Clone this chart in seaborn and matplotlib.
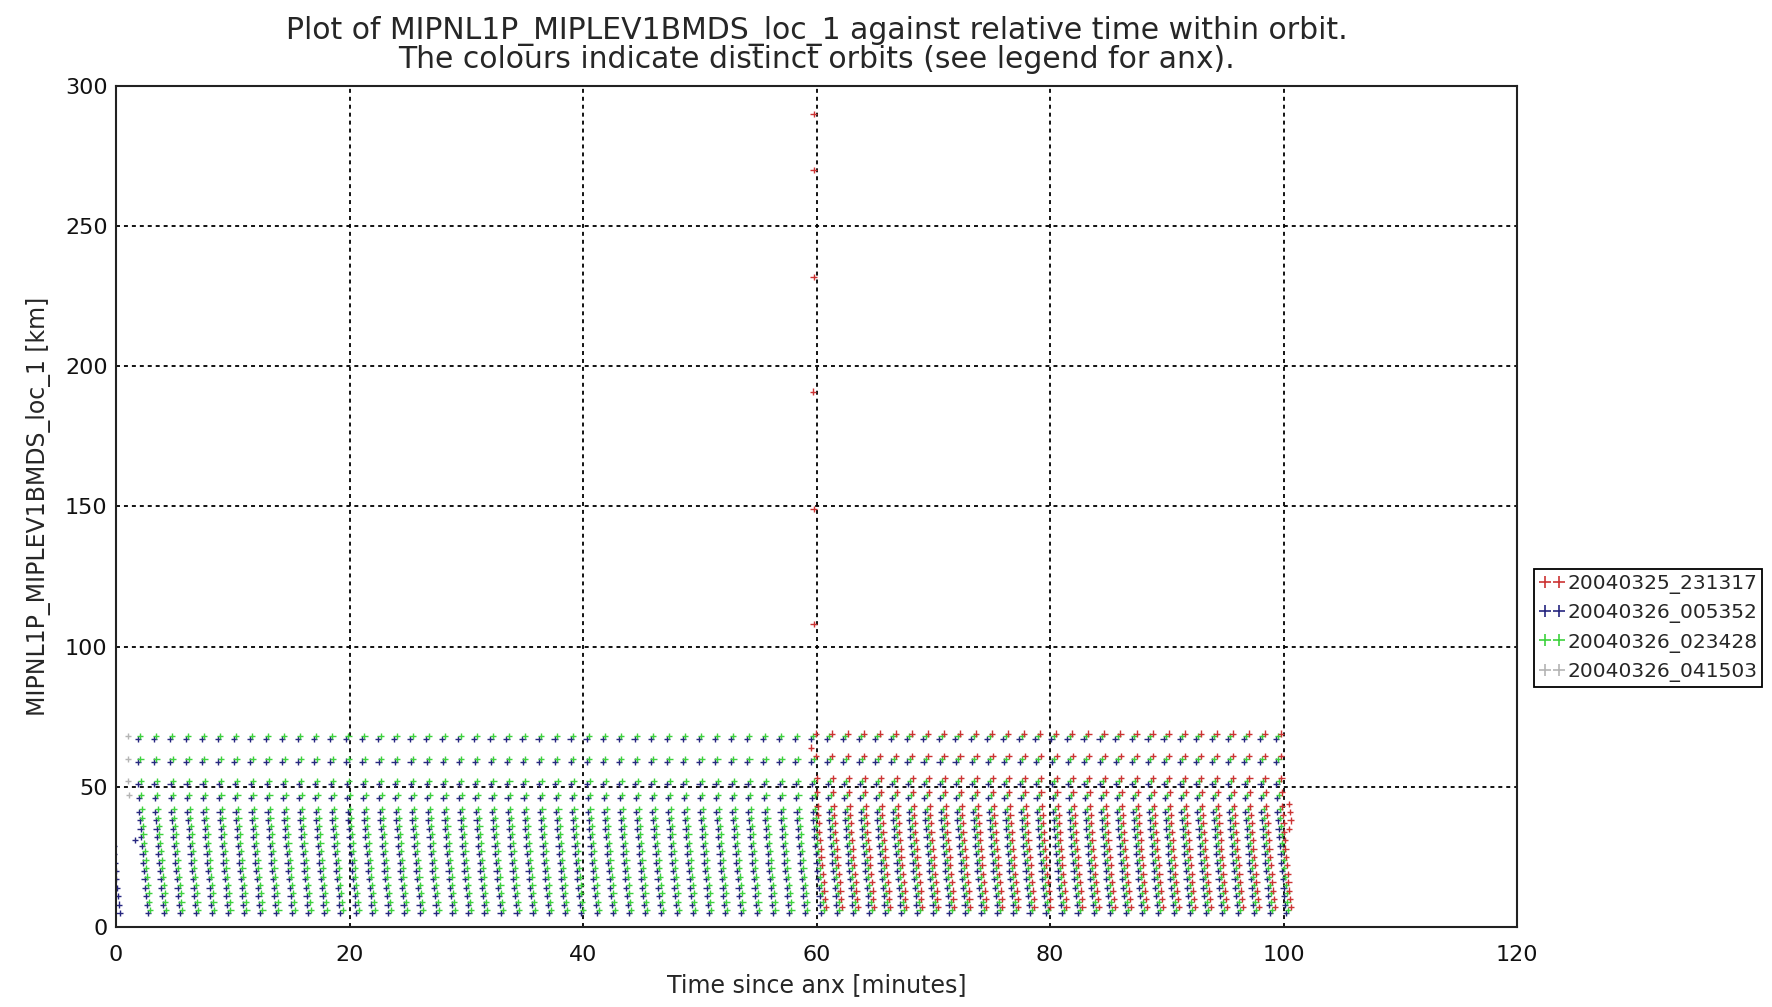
import pandas as pd
import matplotlib
matplotlib.use('Agg')
import matplotlib.pyplot as plt
import seaborn as sns
from matplotlib.lines import Line2D

# Tangent heights of one limb scan [km] and time of each sweep after scan start [min]
tangent_heights = [68, 60, 52, 47, 42, 39, 36, 33, 30, 27, 24, 21, 18, 15, 12, 9, 6]
sweep_offsets = [0.00, 0.03, 0.06, 0.10, 0.14, 0.19, 0.24, 0.29, 0.35, 0.41,
                 0.47, 0.53, 0.59, 0.66, 0.73, 0.80, 0.87]

# Start times of the limb scans [minutes since anx]
scan_starts = [-0.37, 2.06, 3.43, 4.81, 6.18, 7.55, 8.93, 10.30, 11.67, 13.04, 14.42,
               15.79, 17.16, 18.54, 19.91, 21.28, 22.66, 24.03, 25.40, 26.77, 28.15,
               29.52, 30.89, 32.27, 33.64, 35.01, 36.39, 37.76, 39.13, 40.50, 41.88,
               43.25, 44.62, 46.00, 47.37, 48.74, 50.12, 51.49, 52.86, 54.23, 55.61,
               56.98, 58.35, 59.73, 61.10, 62.47, 63.85, 65.22, 66.59, 67.96, 69.34,
               70.71, 72.08, 73.46, 74.83, 76.20, 77.58, 78.95, 80.32, 81.69, 83.07,
               84.44, 85.81, 87.19, 88.56, 89.93, 91.31, 92.68, 94.05, 95.42, 96.80,
               98.17, 99.54]

# Orbits (legend order), colours, covered time span and small offsets between orbits
orbits = ['20040325_231317', '20040326_005352', '20040326_023428', '20040326_041503']
orbit_colours = ['#cc3333', '#262680', '#3dd23d', '#b4b4b4']
orbit_first = [59.0, -1.0, 1.0, 999.0]
orbit_last = [100.0, 100.0, 100.0, -999.0]
orbit_dt = [0.22, -0.20, 0.0, 0.0]
orbit_dh = [1.0, -1.0, 0.0, 0.0]

# isolated points
grey_time = [1.00, 1.00, 1.05, 1.10]
grey_alt = [68, 60, 52, 47]
navy_time = [1.60]
navy_alt = [31]
red_time = [59.75, 59.75, 59.75, 59.70, 59.75, 59.75, 59.55, 100.5, 100.55, 100.6, 100.5]
red_alt = [290, 270, 232, 191, 149, 108, 64, 44, 41, 38, 35]

rows = []
for orb, first, last, dt, dh in zip(orbits, orbit_first, orbit_last, orbit_dt, orbit_dh):
    for t0 in scan_starts:
        if first <= t0 <= last:
            for h, off in zip(tangent_heights, sweep_offsets):
                rows.append((orb, t0 + off + dt, h + dh))
for t, h in zip(grey_time, grey_alt):
    rows.append((orbits[3], t, h))
for t, h in zip(navy_time, navy_alt):
    rows.append((orbits[1], t, h))
for t, h in zip(red_time, red_alt):
    rows.append((orbits[0], t, h))
df = pd.DataFrame(rows, columns=['orbit', 'time', 'alt'])

# drawing order: grey, navy, green, red on top
order = [orbits[3], orbits[1], orbits[2], orbits[0]]
df['rank'] = df['orbit'].map({o: i for i, o in enumerate(order)})
df = df.sort_values('rank', kind='stable')

sns.set_theme(style='white')
plt.rcParams['font.family'] = ['DejaVu Sans']

fig = plt.figure(figsize=(17.72, 10.07), dpi=100)
ax = fig.add_axes([116 / 1772, 1 - 927 / 1007, (1517 - 116) / 1772, (927 - 86) / 1007])

palette = dict(zip(orbits, orbit_colours))
sns.scatterplot(data=df, x='time', y='alt', hue='orbit', palette=palette, marker='+',
                s=20, linewidth=1.0, legend=False, ax=ax)

ax.set_xlim(0, 120)
ax.set_ylim(0, 300)
ax.set_xticks([0, 20, 40, 60, 80, 100, 120])
ax.set_yticks([0, 50, 100, 150, 200, 250, 300])
ax.grid(True, color='black', linestyle=(0, (2.2, 2.2)), linewidth=1.3)
for sp in ax.spines.values():
    sp.set_color('#222222')
    sp.set_linewidth(1.5)
ax.tick_params(axis='both', length=0, labelsize=16, colors='#111111')
ax.tick_params(axis='x', pad=13)
ax.tick_params(axis='y', pad=6)

ax.set_xlabel('Time since anx [minutes]', fontsize=17, labelpad=6)
ax.set_ylabel('MIPNL1P_MIPLEV1BMDS_loc_1 [km]', fontsize=17, labelpad=10)
ax.set_title('Plot of MIPNL1P_MIPLEV1BMDS_loc_1 against relative time within orbit.\n'
             'The colours indicate distinct orbits (see legend for anx).',
             fontsize=21.5, linespacing=0.95, pad=13)

handles = [Line2D([], [], color=c, marker='+', linestyle='none', markersize=9,
                  markeredgewidth=1.2) for c in orbit_colours]
leg = fig.legend(handles, orbits, loc='center left', bbox_to_anchor=(1534 / 1772, 1 - 628 / 1007),
                 numpoints=2, handlelength=1.3, handletextpad=0.1, fontsize=14.5,
                 borderpad=0.25, labelspacing=0.45, borderaxespad=0, fancybox=False,
                 framealpha=1, edgecolor='black')
leg.get_frame().set_linewidth(1.3)

fig.savefig('out.png', dpi=100)
